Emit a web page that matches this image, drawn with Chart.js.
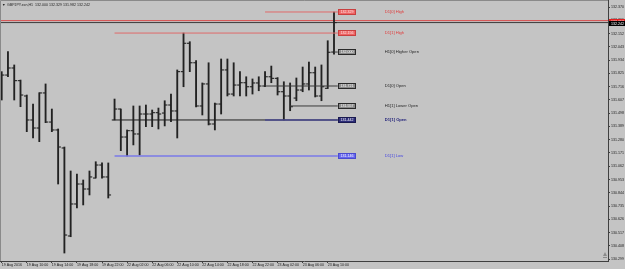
<!DOCTYPE html>
<html>
<head>
<meta charset="utf-8">
<script src="https://cdn.jsdelivr.net/npm/chart.js@4.4.1/dist/chart.umd.min.js"></script>
<style>
  html, body { margin: 0; padding: 0; background: #c4c4c4; }
</style>
</head>
<body>
<canvas id="chart" width="625" height="269"></canvas>
<script>
// GBPJPY H1 bars, 19 Aug 2016 06:00 .. 23 Aug 11:00 (weekend skipped)
const barOpen = [
  131.820, 131.811, 131.869, 131.765, 131.639, 131.442, 131.376, 131.664, 131.425, 131.360,
  131.212, 130.489, 130.752, 130.916, 130.875, 130.965, 131.072, 130.974, 131.442, 131.532,
  131.302, 131.354, 131.327, 131.491, 131.491, 131.502, 131.499, 131.565, 131.516, 131.839,
  132.072, 131.912, 131.557, 131.738, 131.409, 131.573, 131.853, 131.655, 131.729, 131.748,
  131.715, 131.746, 131.721, 131.797, 131.784, 131.674, 131.639, 131.622, 131.688, 131.738,
  131.830, 131.639, 131.702, 132.000,
];
const barHigh = [
  131.839, 132.003, 131.894, 131.770, 131.647, 131.573, 131.666, 131.738, 131.532, 131.368,
  131.220, 131.023, 130.998, 130.949, 131.023, 131.099, 131.091, 131.089, 131.614, 131.532,
  131.360, 131.557, 131.557, 131.565, 131.524, 131.540, 131.600, 131.655, 131.853, 132.156,
  132.085, 131.929, 131.746, 131.912, 131.581, 131.943, 131.943, 131.912, 131.839, 131.797,
  131.779, 131.797, 131.839, 131.885, 131.790, 131.756, 131.746, 131.787, 131.877, 131.918,
  131.877, 131.894, 132.093, 132.329,
];
const barLow = [
  131.606, 131.797, 131.606, 131.551, 131.346, 131.294, 131.264, 131.420, 131.346, 130.916,
  130.349, 130.483, 130.719, 130.744, 130.826, 130.965, 130.965, 130.801, 131.442, 131.190,
  131.146, 131.237, 131.154, 131.387, 131.387, 131.368, 131.393, 131.428, 131.294, 131.715,
  131.839, 131.550, 131.483, 131.401, 131.360, 131.491, 131.639, 131.639, 131.639, 131.639,
  131.655, 131.682, 131.715, 131.748, 131.647, 131.442, 131.518, 131.600, 131.674, 131.688,
  131.631, 131.600, 131.700, 131.982,
];
const barClose = [
  131.811, 131.869, 131.765, 131.647, 131.442, 131.376, 131.664, 131.425, 131.360, 131.220,
  130.497, 130.752, 130.916, 130.875, 130.974, 131.072, 130.974, 130.826, 131.532, 131.302,
  131.354, 131.327, 131.491, 131.491, 131.502, 131.491, 131.565, 131.516, 131.839, 132.072,
  131.912, 131.557, 131.738, 131.409, 131.573, 131.853, 131.655, 131.729, 131.748, 131.715,
  131.746, 131.721, 131.797, 131.784, 131.674, 131.639, 131.551, 131.688, 131.738, 131.830,
  131.639, 131.715, 131.998, 132.242,
];

// one time label every 4 bars
const timeLabels = [
  '19 Aug 2016', '19 Aug 10:00', '19 Aug 14:00', '19 Aug 18:00', '19 Aug 22:00',
  '22 Aug 02:00', '22 Aug 06:00', '22 Aug 10:00', '22 Aug 14:00', '22 Aug 18:00',
  '22 Aug 22:00', '23 Aug 02:00', '23 Aug 06:00', '23 Aug 10:00',
];
const priceTicks = [
  '132.370', '132.261', '132.152', '132.043', '131.934', '131.825', '131.716', '131.607',
  '131.498', '131.389', '131.280', '131.171', '131.062', '130.953', '130.844', '130.735',
  '130.626', '130.517', '130.408', '130.299',
];

const levelNames  = ['D1[0] High', 'D1[1] High', 'H1[0] Higher Open', 'D1[0] Open', 'H1[1] Lower Open', 'D1[1] Open', 'D1[1] Low'];
const levelValues = [132.329, 132.156, 132.000, 131.721, 131.557, 131.442, 131.146];
const levelFrom   = [42, 18, 53, 42, 46, 18, 18];   // bar where each level line starts

const bidPrice = 132.242;
const askPrice = 132.258;
const titleText = 'GBPJPY.ecn,H1  132.000 132.329 131.982 132.242';

// ─── look ─────────────────────────────────────────────────────────────────────
const BG = '#c4c4c4';
const BAR_COLOR = '#222222';
const FONT = '"Liberation Sans", Arial, sans-serif';
const X_MIN = -0.27, X_MAX = 96.7;
const Y_MIN = 130.2836, Y_MAX = 132.4275;
const BOX_AT = 53.6, TEXT_AT = 61.1, TICK = 0.22;

const LEVEL_STYLE = [
  { line: '#e06a6a', width: 1,   box: '#ee6464', border: '#c84040', boxText: '#ffecec', text: '#e03a3a' },
  { line: '#e06a6a', width: 1,   box: '#ee6464', border: '#c84040', boxText: '#ffecec', text: '#e03a3a' },
  { line: '#3a3a3a', width: 1,   box: '#8a8a8a', border: '#2a2a2a', boxText: '#ffffff', text: '#1e1e1e' },
  { line: '#3a3a3a', width: 1,   box: '#8a8a8a', border: '#2a2a2a', boxText: '#ffffff', text: '#1e1e1e' },
  { line: '#3a3a3a', width: 1,   box: '#8a8a8a', border: '#2a2a2a', boxText: '#ffffff', text: '#1e1e1e' },
  { line: '#1e1e1e', width: 1,   box: '#2c2c78', border: '#1a1a50', boxText: '#ffffff', text: '#22227a', bold: true },
  { line: '#7a7ae8', width: 1.5, box: '#6666ee', border: '#4a4ad0', boxText: '#ffffff', text: '#4646e0' },
];

// ─── datasets ─────────────────────────────────────────────────────────────────
const idx = barOpen.map((_, i) => i);

const datasets = [
  {
    type: 'bar',
    data: idx.map(i => ({ x: i, y: [barLow[i], barHigh[i]] })),
    backgroundColor: BAR_COLOR,
    barThickness: 1.2,
    order: 2,
  },
  {
    type: 'line',
    data: idx.map(i => ({ x: i - TICK, y: barOpen[i] })),
    showLine: false,
    pointStyle: 'line',
    pointRadius: 1.4,
    borderColor: BAR_COLOR,
    borderWidth: 1.1,
    order: 2,
  },
  {
    type: 'line',
    data: idx.map(i => ({ x: i + TICK, y: barClose[i] })),
    showLine: false,
    pointStyle: 'line',
    pointRadius: 1.4,
    borderColor: BAR_COLOR,
    borderWidth: 1.1,
    order: 2,
  },
];

levelValues.forEach((v, i) => {
  datasets.push({
    type: 'line',
    data: [{ x: levelFrom[i], y: v }, { x: BOX_AT, y: v }],
    borderColor: LEVEL_STYLE[i].line,
    borderWidth: LEVEL_STYLE[i].width,
    pointRadius: 0,
    order: 1,
  });
});

// D1[1] Open continues in blue over today's part
datasets.push({
  type: 'line',
  data: [{ x: 42, y: levelValues[5] }, { x: BOX_AT, y: levelValues[5] }],
  borderColor: '#4a4a90',
  borderWidth: 1.6,
  pointRadius: 0,
  order: 0,
});

// ask / bid lines across the whole chart
[[askPrice, '#d84a4a'], [bidPrice, '#3c3c3c']].forEach(([p, c]) => {
  datasets.push({
    type: 'line',
    data: [{ x: X_MIN, y: p }, { x: X_MAX, y: p }],
    borderColor: c,
    borderWidth: 1,
    pointRadius: 0,
    order: 3,
  });
});

// ─── decorations: background, level tags, title, price tags ─────────────────
const mtDecor = {
  id: 'mtDecor',
  beforeDraw(chart) {
    const { ctx, width, height } = chart;
    ctx.save();
    ctx.fillStyle = BG;
    ctx.fillRect(0, 0, width, height);
    ctx.restore();
  },
  afterDatasetsDraw(chart) {
    const { ctx, chartArea: a, scales: { x, y } } = chart;
    ctx.save();

    // left/top frame
    ctx.strokeStyle = '#8a8a8a';
    ctx.lineWidth = 1;
    ctx.beginPath();
    ctx.moveTo(a.left + 0.5, a.bottom);
    ctx.lineTo(a.left + 0.5, a.top + 0.5);
    ctx.lineTo(a.right, a.top + 0.5);
    ctx.stroke();

    const bx = Math.round(x.getPixelForValue(BOX_AT));
    const tx = x.getPixelForValue(TEXT_AT);
    levelNames.forEach((name, i) => {
      const st = LEVEL_STYLE[i];
      const py = Math.round(y.getPixelForValue(levelValues[i]));
      ctx.fillStyle = st.box;
      ctx.fillRect(bx, py - 3, 18, 6);
      ctx.strokeStyle = st.border;
      ctx.strokeRect(bx + 0.5, py - 2.5, 17, 5);
      ctx.fillStyle = st.boxText;
      ctx.font = '3.6px ' + FONT;
      ctx.textAlign = 'center';
      ctx.textBaseline = 'middle';
      ctx.fillText(levelValues[i].toFixed(3), bx + 9, py + 0.3);
      ctx.fillStyle = st.text;
      ctx.textAlign = 'left';
      ctx.font = (st.bold ? 'bold ' : '') + '4.1px ' + FONT;
      ctx.fillText(name, tx, py + 0.3);
    });

    // title
    ctx.fillStyle = '#1e1e1e';
    ctx.font = '3.6px ' + FONT;
    ctx.textAlign = 'left';
    ctx.textBaseline = 'middle';
    ctx.fillText('\u25BC', 2, 4.5);
    ctx.fillText(titleText, 7, 4.5);

    // chart-shift marker, bottom right of the plot
    ctx.fillStyle = '#8a8a8a';
    ctx.beginPath();
    ctx.moveTo(a.right - 5, a.bottom - 5);
    ctx.lineTo(a.right - 3, a.bottom - 9);
    ctx.lineTo(a.right - 1, a.bottom - 5);
    ctx.closePath();
    ctx.fill();
    ctx.fillRect(a.right - 5, a.bottom - 4, 4, 1);

    // ask / bid tags on the price axis
    [[askPrice, '#e02020', '#ffdada'], [bidPrice, '#000000', '#ffffff']].forEach(([p, fill, txt]) => {
      const py = Math.round(y.getPixelForValue(p));
      ctx.fillStyle = fill;
      ctx.fillRect(a.right + 1, py - 2, chart.width - a.right - 1, 5);
      ctx.fillStyle = txt;
      ctx.font = '3.6px ' + FONT;
      ctx.fillText(p.toFixed(3), a.right + 3, py + 0.6);
    });

    ctx.restore();
  },
};

// keep the plot flush with the canvas edges, like the terminal window
function noPad(s) {
  s.paddingLeft = 0;
  s.paddingRight = 0;
  s.paddingTop = 0;
  s.paddingBottom = 0;
}

new Chart(document.getElementById('chart'), {
  type: 'bar',
  data: { datasets },
  plugins: [mtDecor],
  options: {
    responsive: false,
    animation: false,
    layout: { padding: 0, autoPadding: false },
    plugins: { legend: { display: false }, tooltip: { enabled: false } },
    scales: {
      x: {
        type: 'linear',
        offset: false,
        min: X_MIN,
        max: X_MAX,
        grid: { drawOnChartArea: false, tickLength: 2, color: '#404040', offset: false },
        border: { color: '#404040' },
        afterBuildTicks: s => { s.ticks = timeLabels.map((_, k) => ({ value: k * 4 })); },
        afterFit: s => { s.height = 8; noPad(s); },
        ticks: {
          autoSkip: false,
          maxRotation: 0,
          align: 'start',
          padding: 0,
          color: '#1a1a1a',
          font: { size: 3.6, family: FONT },
          callback: (v, i) => timeLabels[i],
        },
      },
      y: {
        type: 'linear',
        position: 'right',
        min: Y_MIN,
        max: Y_MAX,
        grid: { drawOnChartArea: false, tickLength: 2, color: '#404040' },
        border: { color: '#404040' },
        afterBuildTicks: s => { s.ticks = priceTicks.map(t => ({ value: parseFloat(t) })); },
        afterFit: s => { s.width = 17; noPad(s); },
        ticks: {
          padding: 1,
          color: '#1a1a1a',
          font: { size: 3.6, family: FONT },
          callback: (v, i) => priceTicks[i],
        },
      },
    },
  },
});
</script>
</body>
</html>
